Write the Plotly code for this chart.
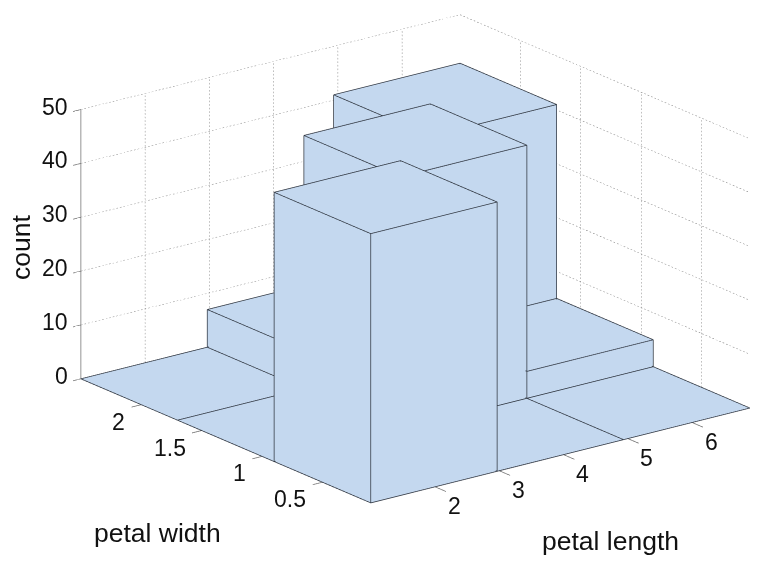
import numpy as np
import plotly.graph_objects as go

# Data
x_edges = [1.0, 2.967, 4.933, 6.9]    # petal length bins
y_edges = [0.1, 0.9, 1.7, 2.5]        # petal width bins
counts = [                            # rows: petal width bin, cols: petal length bin
    [50, 0, 0],
    [0, 47, 5],
    [0, 7, 41],
]
x_ticks = [2, 3, 4, 5, 6]
y_ticks = [0.5, 1, 1.5, 2]
y_tick_labels = ["0.5", "1", "1.5", "2"]
z_ticks = [0, 10, 20, 30, 40, 50]
x_title = "petal length"
y_title = "petal width"
z_title = "count"

BAR = "#C4D8EF"
EDGE = "#2F3640"
GRID = "#808080"
AXIS = "#707070"
FONT = "Liberation Sans, Arial, sans-serif"
TICK_SIZE = 23
TITLE_SIZE = 26.5
SCALE = 1.85
AZ, EL = np.radians(37.4), np.radians(19.1)

X0, X1, Y0, Y1 = x_edges[0], x_edges[-1], y_edges[0], y_edges[-1]
Z1 = z_ticks[-1]
xr = [X0 - 0.2, X1]
yr = [Y0 - 0.1, Y1]
zr = [-1, Z1 + 1]
aspect = dict(x=SCALE * (xr[1] - xr[0]) / (X1 - X0), y=SCALE * (yr[1] - yr[0]) / (Y1 - Y0),
              z=SCALE * 0.597 * (zr[1] - zr[0]) / Z1)
view = np.array([-np.sin(AZ) * np.cos(EL), -np.cos(AZ) * np.cos(EL), np.sin(EL)])

# edges are nudged slightly toward the viewer so the faces do not cover them
EPS = 0.012
nudge = EPS * view * np.array([(xr[1] - xr[0]) / aspect["x"], (yr[1] - yr[0]) / aspect["y"],
                               (zr[1] - zr[0]) / aspect["z"]])

# bars
vx, vy, vz, ti, tj, tk = [], [], [], [], [], []
ex, ey, ez = [], [], []
faces = [(0,1,2),(0,2,3),(4,5,6),(4,6,7),(0,1,5),(0,5,4),(1,2,6),(1,6,5),(2,3,7),(2,7,6),(3,0,4),(3,4,7)]
pairs = [(0,1),(1,2),(2,3),(3,0),(4,5),(5,6),(6,7),(7,4),(0,4),(1,5),(2,6),(3,7)]
for r in range(len(y_edges) - 1):
    for c in range(len(x_edges) - 1):
        h = counts[r][c]
        a, b = x_edges[c], x_edges[c + 1]
        d, e_ = y_edges[r], y_edges[r + 1]
        pts = [(a,d,0),(b,d,0),(b,e_,0),(a,e_,0),(a,d,h),(b,d,h),(b,e_,h),(a,e_,h)]
        n = len(vx)
        for p in pts:
            vx.append(p[0]); vy.append(p[1]); vz.append(p[2])
        for f in faces:
            ti.append(n + f[0]); tj.append(n + f[1]); tk.append(n + f[2])
        for p, q in pairs:
            ex += [pts[p][0] + nudge[0], pts[q][0] + nudge[0], None]
            ey += [pts[p][1] + nudge[1], pts[q][1] + nudge[1], None]
            ez += [pts[p][2] + nudge[2], pts[q][2] + nudge[2], None]

traces = [go.Mesh3d(x=vx, y=vy, z=vz, i=ti, j=tj, k=tk, color=BAR, flatshading=True,
                    lighting=dict(ambient=1, diffuse=0, specular=0, roughness=1, fresnel=0),
                    hoverinfo="skip", showscale=False),
          go.Scatter3d(x=ex, y=ey, z=ez, mode="lines", line=dict(color=EDGE, width=1.5),
                       hoverinfo="skip", showlegend=False)]

# dotted grid on the two back walls, drawn as short strokes
gx, gy, gz = [], [], []
def dotted(p, q, period):
    p, q = np.array(p, float), np.array(q, float)
    length = np.abs(q - p).max()
    n = int(length / period)
    for i in range(n):
        s0 = i / n
        s1 = (i + 0.45) / n
        a = p + (q - p) * s0
        b = p + (q - p) * s1
        gx.extend([a[0], b[0], None]); gy.extend([a[1], b[1], None]); gz.extend([a[2], b[2], None])
PX, PY, PZ = 0.055, 0.028, 0.65   # stroke period along each axis
for t in x_ticks:
    dotted((t, Y1, 0), (t, Y1, Z1), PZ)
for t in y_ticks:
    dotted((X1, t, 0), (X1, t, Z1), PZ)
for t in z_ticks:
    dotted((X0, Y1, t), (X1, Y1, t), PX)
    dotted((X1, Y1, t), (X1, Y0, t), PY)
traces.append(go.Scatter3d(x=gx, y=gy, z=gz, mode="lines",
                           line=dict(color=GRID, width=1),
                           hoverinfo="skip", showlegend=False))

# solid z axis and tick marks
ax, ay, az = [X0, X0, None], [Y1, Y1, None], [0, Z1, None]
for t in x_ticks:
    ax += [t, t, None]; ay += [Y0, Y0 - 0.09, None]; az += [0, 0, None]
for t in y_ticks:
    ax += [X0, X0 - 0.15, None]; ay += [t, t, None]; az += [0, 0, None]
for t in z_ticks:
    ax += [X0, X0 - 0.12, None]; ay += [Y1, Y1, None]; az += [t, t, None]
traces.append(go.Scatter3d(x=ax, y=ay, z=az, mode="lines", line=dict(color=AXIS, width=1.5),
                           hoverinfo="skip", showlegend=False))

font = dict(family=FONT, size=TICK_SIZE, color="#111111")
ann3d = []
for t in x_ticks:
    ann3d.append(dict(x=t, y=Y0, z=0, text=str(t), showarrow=False, font=font,
                      xshift=19, yshift=-19))
for t, s in zip(y_ticks, y_tick_labels):
    ann3d.append(dict(x=X0, y=t, z=0, text=s, showarrow=False, font=font,
                      xanchor="right", xshift=-14, yshift=-17))
for t in z_ticks:
    ann3d.append(dict(x=X0, y=Y1, z=t, text=str(t), showarrow=False, font=font,
                      xanchor="right", xshift=-11, yshift=3))

tfont = dict(family=FONT, size=TITLE_SIZE, color="#111111")
W, H = 766, 576
anch = dict(xanchor="center", yanchor="middle", xref="paper", yref="paper", showarrow=False, font=tfont)
titles = [
    dict(text=x_title, x=610 / W, y=1 - 541 / H, **anch),
    dict(text=y_title, x=157 / W, y=1 - 533 / H, **anch),
    dict(text=z_title, x=21 / W, y=1 - 248 / H, textangle=-90, **anch),
]

D = 2.0
eye = dict(x=D * view[0], y=D * view[1], z=D * view[2])
axis = dict(visible=False, showspikes=False)
fig = go.Figure(traces)
fig.update_layout(
    width=W, height=H, margin=dict(l=0, r=0, t=0, b=0), showlegend=False,
    paper_bgcolor="white", annotations=titles,
    scene=dict(
        domain=dict(x=[64 / W, 1], y=[1 - 521 / H, 1 - 5 / H]),
        xaxis=dict(axis, range=xr), yaxis=dict(axis, range=yr), zaxis=dict(axis, range=zr),
        aspectmode="manual",
        aspectratio=aspect,
        camera=dict(projection=dict(type="orthographic"), eye=eye,
                    center=dict(x=0, y=0, z=0), up=dict(x=0, y=0, z=1)),
        annotations=ann3d,
    ),
)
fig.write_html("out.html", config=dict(displayModeBar=False),
               post_script="document.body.style.margin='0';")
